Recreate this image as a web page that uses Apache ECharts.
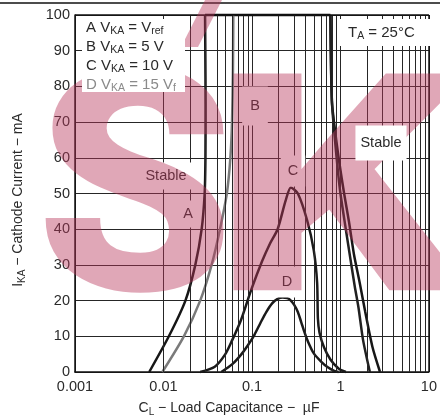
<!DOCTYPE html>
<html><head><meta charset="utf-8">
<script src="https://cdn.jsdelivr.net/npm/echarts@6/dist/echarts.min.js"></script>
<style>html,body{margin:0;padding:0;background:#fff}#c{width:440px;height:419px}</style>
</head><body><div id="c"></div>
<script>
// ---- data ----
const xTickLabels = ['0.001', '0.01', '0.1', '1', '10'];
const yTickLabels = ['0', '10', '20', '30', '40', '50', '60', '70', '80', '90', '100'];
// curve A (V_KA = Vref): left and right boundaries  [capacitance µF, current mA]
const curveALeft = [[0.0069, 0], [0.0115, 10], [0.0177, 20], [0.0229, 30], [0.027, 40], [0.0292, 50], [0.0298, 60], [0.0299, 75], [0.0297, 90], [0.0295, 100]];
const curveARight = [[0.77, 100], [0.80, 76], [0.875, 67], [0.98, 58], [1.1, 50], [1.25, 42], [1.42, 33], [1.65, 25], [1.9, 17], [2.3, 7], [2.8, 0]];
// curve B (V_KA = 5 V)
const curveBLeft = [[0.0097, 0], [0.017, 10], [0.026, 20], [0.035, 30], [0.0435, 40], [0.052, 50], [0.057, 60], [0.0595, 70], [0.061, 85], [0.0615, 100]];
const curveBRight = [[0.77, 100], [0.80, 76], [0.86, 66], [0.93, 57], [1.0, 50], [1.15, 40], [1.29, 32], [1.45, 24], [1.6, 18], [1.8, 9], [2.15, 0]];
// curve C (V_KA = 10 V)
const curveC = [[0.026, 0], [0.038, 1.5], [0.05, 5], [0.06, 9], [0.075, 14.5], [0.098, 23], [0.13, 31], [0.16, 36], [0.195, 40], [0.24, 48], [0.275, 51.7], [0.33, 50], [0.42, 42.5], [0.50, 34], [0.545, 25], [0.556, 15], [0.58, 11], [0.65, 7], [0.77, 3.5], [0.95, 1], [1.15, 0]];
// curve D (V_KA = 15 V)
const curveD = [[0.045, 0], [0.06, 2.2], [0.075, 4.8], [0.09, 7.5], [0.107, 10.5], [0.125, 13.8], [0.145, 16.8], [0.17, 19.3], [0.195, 20.5], [0.222, 20.9], [0.25, 20.7], [0.27, 20.2], [0.3, 18.8], [0.33, 16.8], [0.36, 14], [0.39, 11.3], [0.43, 8.5], [0.5, 5.2], [0.6, 3.0], [0.72, 1.3], [0.85, 0.3], [0.95, 0]];

// ---- chart ----
const FONT = '"Liberation Sans", Arial, Helvetica, sans-serif';
const TXT = '#2a2a2a';
const GRID = '#262626';
const minorX = [];
for (let d = -3; d < 1; d++) for (let k = 2; k <= 9; k++) minorX.push(+(k * Math.pow(10, d)).toPrecision(3));

const topEdge = [[curveALeft[curveALeft.length - 1][0], 100], [curveARight[0][0], 100]];

function curve(name, data, color) {
  return {
    name, type: 'line', data, smooth: 0.25, showSymbol: false, clip: false,
    lineStyle: { width: 2.5, color }, z: 3, animation: false, silent: true
  };
}

const chart = echarts.init(document.getElementById('c'), null, { renderer: 'canvas' });
function richText(x, y, text, opts) {
  opts = opts || {};
  const fill = opts.fill || TXT;
  const fs = opts.fontSize || 14;
  const ss = opts.subSize || 10;
  return {
    type: 'text', x, y, z: opts.z || 10, rotation: opts.rotation || 0, silent: true,
    style: {
      text, fill, fontFamily: FONT, fontSize: fs,
      align: opts.align || 'left', textAlign: opts.align || 'left',
      verticalAlign: opts.va || 'middle', textVerticalAlign: opts.va || 'middle',
      backgroundColor: opts.bg, padding: opts.pad,
      rich: {
        m: { fontSize: fs, lineHeight: 18, fill, fontFamily: FONT },
        s: { fontSize: ss, lineHeight: 10, verticalAlign: 'bottom', fill, fontFamily: FONT }
      }
    }
  };
}

const WM = 'rgba(185,55,90,0.44)';
const graphics = [
  // top rule
  { type: 'line', shape: { x1: 0, y1: 3, x2: 440, y2: 3 }, style: { stroke: '#111', lineWidth: 1.5 }, z: 10, silent: true },
  // region labels (under the watermark)
  richText(166, 176, 'Stable', { align: 'center', bg: '#fff', pad: [6, 5, 6, 5], fontSize: 14.5 }),
  richText(188, 214, 'A', { align: 'center', bg: '#fff', pad: [6, 5, 6, 5], fontSize: 14.5 }),
  richText(255, 106, 'B', { align: 'center', bg: '#fff', pad: [12, 8, 12, 8], fontSize: 14.5 }),
  richText(293, 171, 'C', { align: 'center', bg: '#fff', pad: [8, 7, 8, 7], fontSize: 14.5 }),
  richText(287, 282, 'D', { align: 'center', bg: '#fff', pad: [8, 7, 8, 7], fontSize: 14.5 }),
  richText(381, 143, 'Stable', { align: 'center', bg: '#fff', pad: [10, 5, 10, 5], fontSize: 14.5, z: 110 }),
  // axis titles
  richText(229, 408, '{m|C}{s|L}{m| − Load Capacitance −  µF}', { align: 'center' }),
  richText(18, 200, '{m|I}{s|KA}{m| − Cathode Current − mA}', { align: 'center', rotation: Math.PI / 2 }),
  // watermark
  { type: 'text', x: 135, y: 212, scaleX: 1.04, scaleY: 1.02, z: 100, silent: true, style: { text: 'S', fill: WM, font: '900 305px Roboto', align: 'center', textAlign: 'center', verticalAlign: 'middle', textVerticalAlign: 'middle' } },
  { type: 'text', x: 212, y: 214, scaleX: 1.3, z: 100, silent: true, style: { text: 'K', fill: WM, font: '900 305px Roboto', align: 'left', textAlign: 'left', verticalAlign: 'middle', textVerticalAlign: 'middle' } },
  { type: 'polygon', z: 100, silent: true, shape: { points: [[181, 47], [198, 47], [222, 0], [205, 0]] }, style: { fill: WM } },
  // legend box (above the watermark)
  { type: 'rect', shape: { x: 82, y: 19, width: 103, height: 73 }, style: { fill: '#fff' }, z: 110, silent: true },
  richText(86, 28, '{m|A V}{s|KA}{m| = V}{s|ref}', { fontSize: 15, subSize: 10.5, z: 111 }),
  richText(86, 47, '{m|B V}{s|KA}{m| = 5 V}', { fontSize: 15, subSize: 10.5, z: 111 }),
  richText(86, 66, '{m|C V}{s|KA}{m| = 10 V}', { fontSize: 15, subSize: 10.5, z: 111 }),
  richText(86, 85, '{m|D V}{s|KA}{m| = 15 V}{s|f}', { fill: '#8a8a8a', fontSize: 15, subSize: 10.5, z: 111 }),
  // T_A box
  { type: 'rect', shape: { x: 338, y: 19, width: 95, height: 27 }, style: { fill: '#fff' }, z: 110, silent: true },
  richText(348, 33, '{m|T}{s|A}{m| = 25°C}', { fontSize: 15, subSize: 10.5, z: 111 })
];

chart.setOption({
  animation: false,
  backgroundColor: '#fff',
  grid: { left: 75, right: 6, top: 15, bottom: 47, show: false },
  xAxis: {
    type: 'log', logBase: 10, min: 0.001, max: 10,
    axisLine: { show: true, lineStyle: { color: '#111', width: 1.5 } },
    axisTick: { show: false },
    splitLine: { show: true, lineStyle: { color: GRID, width: 1 } },
    axisLabel: {
      margin: 7, color: TXT, fontSize: 14.5, fontFamily: FONT,
      formatter: v => xTickLabels[Math.round(Math.log10(v)) + 3]
    }
  },
  yAxis: {
    type: 'value', min: 0, max: 100, interval: 10,
    axisLine: { show: true, lineStyle: { color: '#111', width: 1.5 } },
    axisTick: { show: false },
    splitLine: { show: true, lineStyle: { color: GRID, width: 1 } },
    axisLabel: {
      margin: 5, color: TXT, fontSize: 14.5, fontFamily: FONT,
      formatter: v => yTickLabels[Math.round(v / 10)]
    }
  },
  series: [
    Object.assign(curve('AB top', topEdge, '#111'), {
      smooth: false,
      markLine: {
        silent: true, symbol: 'none', animation: false, label: { show: false },
        lineStyle: { color: GRID, width: 1, type: 'solid' },
        data: minorX.map(v => ({ xAxis: v }))
      }
    }),
    curve('A left', curveALeft, '#161616'),
    curve('A right', curveARight, '#161616'),
    curve('B left', curveBLeft, '#7a7a7a'),
    curve('B right', curveBRight, '#202020'),
    curve('C', curveC, '#1a1a1a'),
    curve('D', curveD, '#1a1a1a'),
    { type: 'line', data: [], markLine: { silent: true, symbol: 'none', label: { show: false }, data: [{ yAxis: 100 }, { xAxis: 10 }], lineStyle: { color: '#111', width: 1.5, type: 'solid' } } }
  ],
  graphic: { elements: graphics }
});
</script></body></html>
